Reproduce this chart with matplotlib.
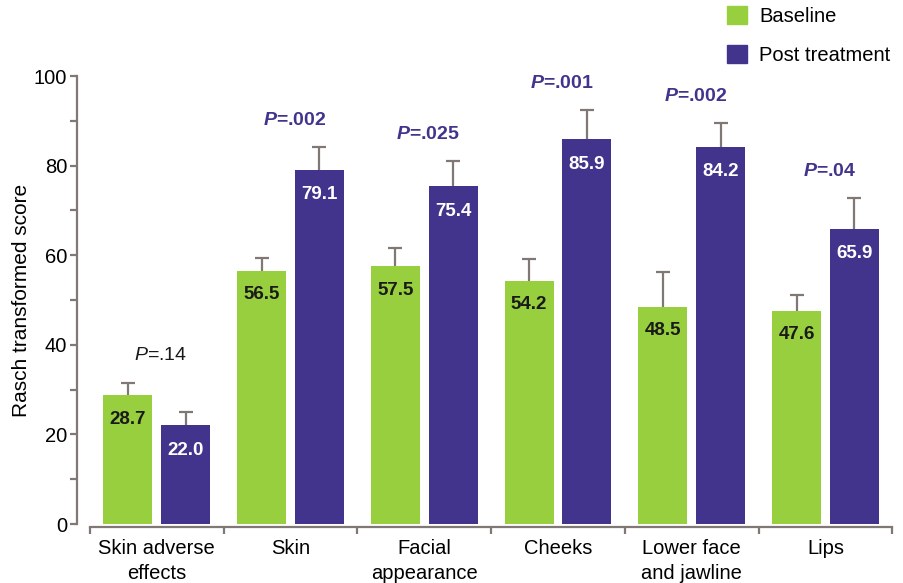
import matplotlib
matplotlib.use("Agg")
import matplotlib.pyplot as plt
from matplotlib.patches import Patch
import numpy as np

plt.rcParams['font.family'] = ['Liberation Sans', 'DejaVu Sans']
plt.rcParams['mathtext.fontset'] = 'custom'
plt.rcParams['mathtext.rm'] = 'Liberation Sans'
plt.rcParams['mathtext.it'] = 'Liberation Sans:italic'
plt.rcParams['mathtext.bf'] = 'Liberation Sans:bold'
plt.rcParams['mathtext.bfit'] = 'Liberation Sans:italic:bold'

categories = ["Skin adverse\neffects", "Skin", "Facial\nappearance", "Cheeks",
              "Lower face\nand jawline", "Lips"]
baseline = [28.7, 56.5, 57.5, 54.2, 48.5, 47.6]
post = [22.0, 79.1, 75.4, 85.9, 84.2, 65.9]
baseline_err = [2.8, 2.9, 4.2, 4.9, 7.8, 3.6]
post_err = [2.9, 5.1, 5.6, 6.5, 5.4, 6.9]
p_values = [".14", ".002", ".025", ".001", ".002", ".04"]
p_significant = [False, True, True, True, True, True]

GREEN = '#97cf3f'
PURPLE = '#42348c'
GREY = '#807875'

fig = plt.figure(figsize=(9.04, 5.83), dpi=100)
ax = fig.add_axes([77 / 904, 59 / 583, 818 / 904, 448 / 583])

x = np.arange(len(categories))
w = 0.366
off = 0.216
err_kw = dict(ecolor=GREY, elinewidth=1.6, capsize=5, capthick=1.6)

ax.bar(x - off, baseline, w, color=GREEN, label='Baseline', zorder=2)
ax.bar(x + off, post, w, color=PURPLE, label='Post treatment', zorder=2)
# upper error bars only; drop the cap sitting on the bar top
for xs, ys, es in [(x - off, baseline, baseline_err), (x + off, post, post_err)]:
    eb = ax.errorbar(xs, ys, yerr=[np.zeros(len(x)), es], fmt='none', zorder=1, **err_kw)
    eb[1][0].remove()

# values inside bars
for xi, b, p in zip(x, baseline, post):
    ax.annotate(f"{b:.1f}", (xi - off, b), xytext=(0, -17), textcoords='offset points',
                ha='center', va='center', fontsize=13.5, fontweight='bold', color='#1a1a1a')
    ax.annotate(f"{p:.1f}", (xi + off, p), xytext=(0, -18), textcoords='offset points',
                ha='center', va='center', fontsize=13.5, fontweight='bold', color='white')

# P values above each group
for xi, b, be, p, pe, pv, sig in zip(x, baseline, baseline_err, post, post_err, p_values, p_significant):
    top = max(b + be, p + pe)
    if sig:
        txt = r"$\mathbfit{P}$=" + pv
        ax.annotate(txt, (xi + 0.03, top), xytext=(0, 19), textcoords='offset points',
                    ha='center', va='center', fontsize=14, fontweight='bold', color=PURPLE)
    else:
        txt = r"$\mathit{P}$=" + pv
        ax.annotate(txt, (xi + 0.03, top), xytext=(0, 20), textcoords='offset points',
                    ha='center', va='center', fontsize=14, color='#1a1a1a')

ax.set_ylim(0, 100)
ax.set_xlim(-0.597, 5.52)
ax.set_yticks(np.arange(0, 101, 20))
ax.set_yticks(np.arange(10, 100, 20), minor=True)
ax.set_xticks(np.arange(-0.5, 6, 1))
ax.set_xticklabels([])
ax.set_xticks(x, categories, minor=True)

for s in ['top', 'right']:
    ax.spines[s].set_visible(False)
for s in ['left', 'bottom']:
    ax.spines[s].set_color(GREY)
    ax.spines[s].set_linewidth(1.6)
ax.spines['left'].set_bounds(0, 100)
ax.spines['bottom'].set_bounds(-0.5, 5.5)
ax.spines['bottom'].set_position(('outward', 2))

ax.tick_params(axis='y', which='both', direction='out', length=5, width=1.6, color=GREY,
               labelsize=14.5, pad=2)
ax.tick_params(axis='x', which='major', direction='out', length=5, width=1.6, color=GREY)
ax.tick_params(axis='x', which='minor', length=0, labelsize=14.5, pad=9)
for lab in ax.get_xticklabels(minor=True):
    lab.set_linespacing(1.4)

ax.set_ylabel("Rasch transformed score", fontsize=15, labelpad=2)

handles = [Patch(color=GREEN), Patch(color=PURPLE)]
fig.legend(handles, ['Baseline', 'Post treatment'], loc='upper left',
           bbox_to_anchor=(727 / 904, 1 - 6 / 583), frameon=False, fontsize=14.5,
           handlelength=1.0, handleheight=1.0, handletextpad=0.6, labelspacing=0.95,
           borderpad=0, borderaxespad=0)

fig.savefig("out.png", dpi=100)
